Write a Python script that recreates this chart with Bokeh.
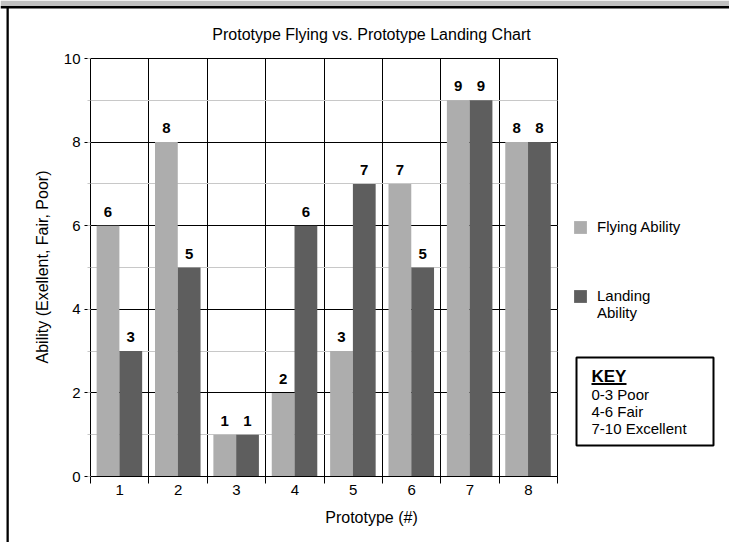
import math
from bokeh.plotting import figure
from bokeh.models import (ColumnDataSource, Range1d, FixedTicker, SingleIntervalTicker,
                          Legend, LegendItem, Label, BoxAnnotation)
from bokeh.transform import dodge
from bokeh.core.properties import value
from bokeh.embed import file_html
from bokeh.resources import INLINE

# ---- data ----
prototypes = [1, 2, 3, 4, 5, 6, 7, 8]
tick_labels = ["1", "2", "3", "4", "5", "6", "7", "8"]
flying = [6, 8, 1, 2, 3, 7, 9, 8]
landing = [3, 5, 1, 6, 7, 5, 9, 8]
series_names = ["Flying Ability", "\nLanding\nAbility"]
title_text = "Prototype Flying vs. Prototype Landing Chart"
x_label = "Prototype (#)"
y_label = "Ability (Exellent, Fair, Poor)"
key_title = "KEY"
key_lines = ["0-3 Poor", "4-6 Fair", "7-10 Excellent"]
y_min, y_max = 0, 10

FONT = "Liberation Sans"
LIGHT = "#adadad"
DARK = "#5e5e5e"
MINOR = "#c8c8c8"
W, H = 729, 542
SHIFT = 5  # text baseline correction (px)

# page pixel -> data coordinates (chart area spans x 90..557, y 58..476 on the page)
FX0, FX1, FY0, FY1 = 90, 557, 58, 476
X0 = prototypes[0] - 0.5
X1 = prototypes[-1] + 0.5
def px(x):
    return X0 + (x - FX0) * (X1 - X0) / (FX1 - FX0)
def py(y):
    return y_min + (FY1 - y) * (y_max - y_min) / (FY1 - FY0)

p = figure(width=W, height=H, x_range=Range1d(px(0), px(W)), y_range=Range1d(py(H), py(0)),
           output_backend="svg", toolbar_location=None,
           min_border=0, background_fill_color="white", border_fill_color="white")
p.title.visible = False
p.outline_line_color = None

# y axis and grid
yt = SingleIntervalTicker(interval=2, num_minor_ticks=2)
p.yaxis.ticker = yt
p.yaxis.fixed_location = X0
p.yaxis.bounds = (y_min, y_max)
p.yaxis.major_tick_out = 6
p.yaxis.major_tick_in = 0
p.yaxis.minor_tick_out = 3
p.yaxis.minor_tick_in = 0
p.yaxis.minor_tick_line_color = MINOR
p.yaxis.major_label_standoff = 4
p.ygrid.ticker = yt
p.ygrid.bounds = (y_min - 0.001, y_max + 0.001)
p.ygrid.cross_bounds = (X0, X1)
p.ygrid.grid_line_color = "black"
p.ygrid.minor_grid_line_color = MINOR

# x axis and grid (lines between prototypes)
xt = FixedTicker(ticks=prototypes, minor_ticks=[v - 0.5 for v in prototypes] + [X1])
p.xaxis.ticker = xt
p.xaxis.fixed_location = y_min
p.xaxis.bounds = (X0, X1)
p.xaxis.major_label_overrides = {v: t for v, t in zip(prototypes, tick_labels)}
p.xaxis.major_tick_out = 0
p.xaxis.major_tick_in = 0
p.xaxis.minor_tick_out = 7
p.xaxis.minor_tick_in = 0
p.xaxis.minor_tick_line_color = "black"
p.xaxis.major_label_standoff = 1
p.xgrid.ticker = xt
p.xgrid.bounds = (X0 - 0.001, X1 + 0.001)
p.xgrid.cross_bounds = (y_min, y_max)
p.xgrid.grid_line_color = None
p.xgrid.minor_grid_line_color = "black"

for ax in (p.xaxis, p.yaxis):
    ax.axis_line_color = "black"
    ax.major_tick_line_color = "black"
    ax.major_label_text_font = FONT
    ax.major_label_text_font_size = "15px"
    ax.major_label_text_color = "black"

src = ColumnDataSource(dict(x=prototypes, flying=flying, landing=landing,
                            fl=[str(v) for v in flying], ll=[str(v) for v in landing]))

r1 = p.vbar(x=dodge("x", -0.2), top="flying", width=0.39, source=src,
            fill_color=LIGHT, line_color=None)
r2 = p.vbar(x=dodge("x", 0.19), top="landing", width=0.39, source=src,
            fill_color=DARK, line_color=None)

for xo, col, lab in ((-0.2, "flying", "fl"), (0.19, "landing", "ll")):
    p.text(x=dodge("x", xo), y=col, text=lab, source=src, text_align="center",
           text_baseline="alphabetic", y_offset=-14, text_font=value(FONT),
           text_font_size="15px", text_font_style="bold", text_color="black")

legend = Legend(items=[LegendItem(label=series_names[0], renderers=[r1]),
                       LegendItem(label=series_names[1], renderers=[r2])],
                location=(572, H - 321), orientation="vertical",
                glyph_width=16, glyph_height=16, label_standoff=9, spacing=35,
                padding=0, margin=0, border_line_color=None, background_fill_alpha=0,
                label_text_font=FONT, label_text_font_size="15px", label_text_color="black",
                label_height=16)
p.add_layout(legend)

# page decorations
p.add_layout(BoxAnnotation(left=px(0), right=px(W), top=py(0), bottom=py(5.5),
                           fill_color="#c0c0c0", fill_alpha=1, line_color=None))
p.add_layout(BoxAnnotation(left=px(0), right=px(W), top=py(5.5), bottom=py(8),
                           fill_color="black", fill_alpha=1, line_color=None))
p.add_layout(BoxAnnotation(left=px(6), right=px(8.3), top=py(5.5), bottom=py(H),
                           fill_color="black", fill_alpha=1, line_color=None))

# titles
p.add_layout(Label(x=px(371), y=py(39 - SHIFT), text=title_text, text_align="center",
                   text_baseline="alphabetic", text_font=FONT, text_font_size="16px",
                   text_color="black"))
p.add_layout(Label(x=px(371), y=py(522 - SHIFT), text=x_label, text_align="center",
                   text_baseline="alphabetic", text_font=FONT, text_font_size="16px",
                   text_color="black"))
p.add_layout(Label(x=px(47 - SHIFT), y=py(266.5), text=y_label, angle=math.pi / 2,
                   text_align="center", text_baseline="alphabetic", text_font=FONT,
                   text_font_size="16px", text_color="black"))

# KEY box
p.add_layout(BoxAnnotation(left=px(576), right=px(713), top=py(357), bottom=py(445),
                           fill_alpha=0, line_color="black", line_alpha=1, line_width=2))
p.add_layout(Label(x=px(591), y=py(381 - SHIFT), text=key_title, text_align="left",
                   text_baseline="alphabetic", text_font=FONT, text_font_size="17px",
                   text_font_style="bold", text_color="black"))
p.add_layout(BoxAnnotation(left=px(591), right=px(626), top=py(382.5), bottom=py(384.5),
                           fill_color="black", fill_alpha=1, line_color=None))
for i, t in enumerate(key_lines):
    p.add_layout(Label(x=px(591), y=py(399 + 17 * i - SHIFT), text=t, text_align="left",
                       text_baseline="alphabetic", text_font=FONT, text_font_size="15px",
                       text_color="black"))

open("out.html", "w").write(file_html(p, INLINE))
